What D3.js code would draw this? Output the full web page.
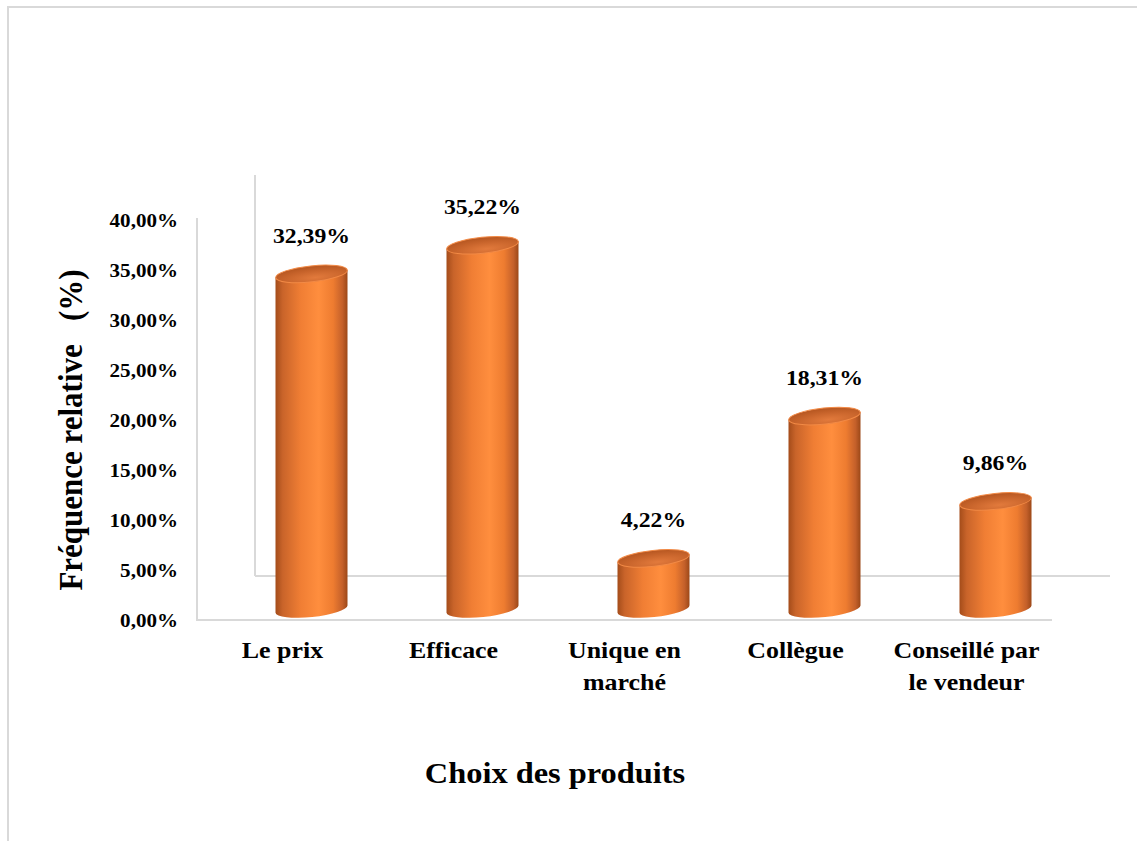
<!DOCTYPE html>
<html>
<head>
<meta charset="utf-8">
<script src="https://cdn.jsdelivr.net/npm/d3@7"></script>
<style>
  body { margin: 0; background: #fff; }
  text { font-family: "Liberation Serif", "Times New Roman", serif; font-weight: bold; fill: #000; }
</style>
</head>
<body>
<svg id="chart" width="1137" height="841"></svg>
<script>
// data
var categories = [["Le prix"], ["Efficace"], ["Unique en", "marché"], ["Collègue"], ["Conseillé par", "le vendeur"]];
var values = [32.39, 35.22, 4.22, 18.31, 9.86];
var valueLabels = ["32,39%", "35,22%", "4,22%", "18,31%", "9,86%"];
var tickValues = [0, 5, 10, 15, 20, 25, 30, 35, 40];
var tickLabels = ["0,00%", "5,00%", "10,00%", "15,00%", "20,00%", "25,00%", "30,00%", "35,00%", "40,00%"];

var svg = d3.select("#chart");
var stretch = 1.08; // text in the source looks a bit wider than normal

// frame of the picture
svg.append("path").attr("d", "M8,841 L8,7 L1137,7")
   .attr("fill", "none").attr("stroke", "#d9d9d9").attr("stroke-width", 2);

var keys = categories.map(function(c) { return c.join(" "); });
var x = d3.scaleBand().domain(keys).range([197, 1052]);
var yFront = d3.scaleLinear().domain([0, 40]).range([621, 221]);
var yBack = d3.scaleLinear().domain([0, 40]).range([576, 175]);
var yBar = d3.scaleLinear().domain([0, 40]).range([601, 197]);
var depthX = 58, halfDepth = 29;

// gradients
var defs = svg.append("defs");
var g1 = defs.append("linearGradient").attr("id", "body").attr("x1", 0).attr("x2", 1).attr("y1", 0).attr("y2", 0);
[[0, "#a44c1a"], [0.1, "#c9642a"], [0.35, "#f07e34"], [0.6, "#ff8e3e"], [0.8, "#ee7c30"], [0.93, "#c4602a"], [1, "#9c4818"]]
  .forEach(function(s) { g1.append("stop").attr("offset", s[0]).attr("stop-color", s[1]); });
var g2 = defs.append("radialGradient").attr("id", "top").attr("cx", 0.55).attr("cy", 0.75).attr("r", 0.7);
[[0, "#e27a3c"], [0.6, "#c9652c"], [1, "#b85822"]]
  .forEach(function(s) { g2.append("stop").attr("offset", s[0]).attr("stop-color", s[1]); });

// walls / axes lines
var grid = svg.append("g").attr("stroke", "#d9d9d9").attr("stroke-width", 2).attr("fill", "none");
grid.append("line").attr("x1", 255).attr("x2", 255).attr("y1", yBack(0)).attr("y2", yBack(40));
grid.append("line").attr("x1", 255).attr("x2", 1052 + depthX).attr("y1", yBack(0)).attr("y2", yBack(0));
grid.append("line").attr("x1", 197).attr("x2", 197).attr("y1", yFront(0)).attr("y2", yFront(40) - 3);
grid.append("line").attr("x1", 197).attr("x2", 1052).attr("y1", yFront(0) - 1).attr("y2", yFront(0) - 1);

// y tick labels
svg.append("g").selectAll("text").data(tickValues).enter().append("text")
   .attr("transform", function(d) { return "translate(178," + (yFront(d) + 6) + ") scale(" + stretch + ",1)"; })
   .attr("text-anchor", "end").style("font-size", "19.5px")
   .text(function(d, i) { return tickLabels[i]; });

// cylinders
var rx = 36, ry = 8, tilt = -6;
var tiltRad = tilt * Math.PI / 180;
var dyEdge = rx * Math.sin(tiltRad);
var bars = svg.append("g").selectAll("g").data(values).enter().append("g");
bars.append("path")
  .attr("fill", "url(#body)")
  .attr("d", function(d, i) {
    var cx = x(keys[i]) + x.bandwidth() / 2 + halfDepth;
    var yt = yBar(d), yb = yBar(0) + 8;
    return "M" + (cx - rx) + "," + (yt - dyEdge) +
           " L" + (cx - rx) + "," + (yb - dyEdge) +
           " A" + rx + "," + ry + " " + tilt + " 0 0 " + (cx + rx) + "," + (yb + dyEdge) +
           " L" + (cx + rx) + "," + (yt + dyEdge) + " Z";
  });
bars.append("ellipse")
  .attr("rx", rx).attr("ry", ry)
  .attr("fill", "url(#top)").attr("stroke", "#f28a46").attr("stroke-width", 1)
  .attr("transform", function(d, i) {
    var cx = x(keys[i]) + x.bandwidth() / 2 + halfDepth;
    return "translate(" + cx + "," + yBar(d) + ") rotate(" + tilt + ")";
  });

// value labels
bars.append("text")
  .attr("transform", function(d, i) {
    var cx = x(keys[i]) + x.bandwidth() / 2 + halfDepth;
    return "translate(" + cx + "," + (yBar(d) - 31) + ") scale(" + stretch + ",1)";
  })
  .attr("text-anchor", "middle").style("font-size", "22px")
  .text(function(d, i) { return valueLabels[i]; });

// category labels
var cat = svg.append("g").selectAll("text").data(categories).enter().append("text")
  .attr("transform", function(d, i) {
    return "translate(" + (x(keys[i]) + x.bandwidth() / 2) + ",658) scale(" + stretch + ",1)";
  })
  .attr("text-anchor", "middle").style("font-size", "24px");
cat.selectAll("tspan").data(function(d) { return d; }).enter().append("tspan")
  .attr("x", 0).attr("dy", function(d, i) { return i ? 32 : 0; })
  .text(function(d) { return d; });

// axis titles
svg.append("text")
  .attr("transform", "translate(555,783) scale(" + stretch + ",1)")
  .attr("text-anchor", "middle").style("font-size", "30px")
  .text("Choix des produits");

svg.append("text")
  .attr("transform", "translate(82,430) rotate(-90) scale(1," + stretch + ")")
  .attr("text-anchor", "middle").style("font-size", "31px")
  .attr("xml:space", "preserve")
  .text("Fréquence relative   (%)");
</script>
</body>
</html>
